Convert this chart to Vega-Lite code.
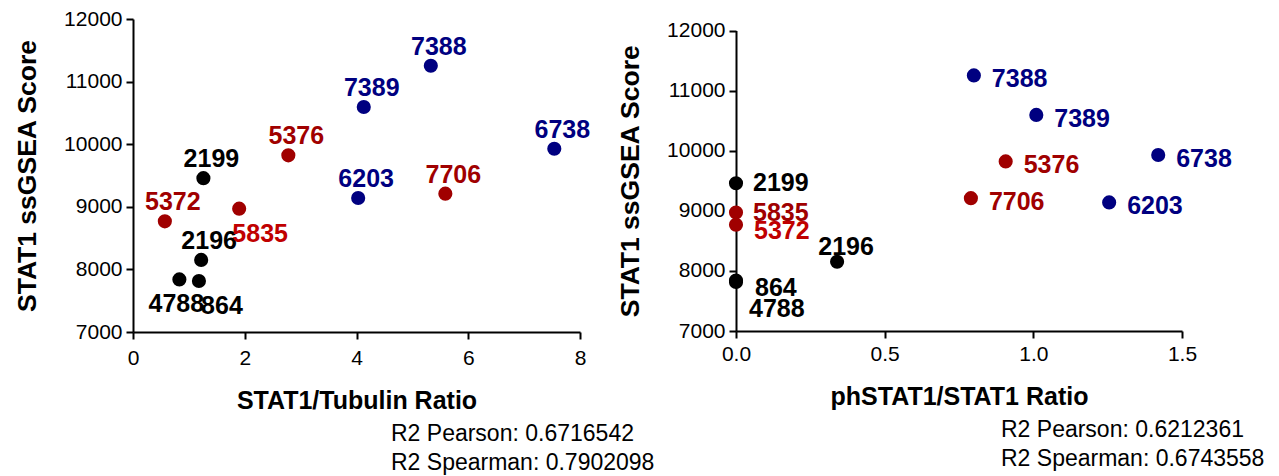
{
  "$schema": "https://vega.github.io/schema/vega-lite/v6.json",
  "background": "white",
  "padding": {"left": 14, "top": 8, "right": 5, "bottom": 5},
  "bounds": "flush",
  "config": {
    "view": {"stroke": null},
    "font": "Liberation Sans",
    "axis": {
      "grid": false,
      "domainColor": "black",
      "domainWidth": 2,
      "tickColor": "black",
      "tickWidth": 2,
      "tickSize": 7,
      "labelFont": "Liberation Sans",
      "labelFontSize": 21,
      "labelColor": "black",
      "labelPadding": 4,
      "labelFlush": false,
      "titleFont": "Liberation Sans",
      "titleFontSize": 25,
      "titleFontWeight": "bold",
      "titleColor": "black"
    },
    "title": {
      "font": "Liberation Sans",
      "fontSize": 23,
      "fontWeight": "normal",
      "color": "black",
      "subtitleFont": "Liberation Sans",
      "subtitleFontSize": 23,
      "subtitleColor": "black",
      "subtitlePadding": 6,
      "orient": "bottom",
      "anchor": "start",
      "frame": "group",
      "align": "left",
      "offset": 10
    }
  },
  "data": {
    "values": [
      {"id": "7388", "group": "blue", "tub": 5.33, "ph": 0.80, "score": 11253},
      {"id": "7389", "group": "blue", "tub": 4.13, "ph": 1.01, "score": 10595},
      {"id": "6738", "group": "blue", "tub": 7.54, "ph": 1.42, "score": 9928},
      {"id": "6203", "group": "blue", "tub": 4.03, "ph": 1.255, "score": 9140},
      {"id": "5376", "group": "red", "tub": 2.78, "ph": 0.907, "score": 9822},
      {"id": "7706", "group": "red", "tub": 5.59, "ph": 0.79, "score": 9210},
      {"id": "5835", "group": "red", "tub": 1.90, "ph": 0.0, "score": 8970},
      {"id": "5372", "group": "red", "tub": 0.57, "ph": 0.0, "score": 8768},
      {"id": "2199", "group": "black", "tub": 1.26, "ph": 0.0, "score": 9458},
      {"id": "2196", "group": "black", "tub": 1.22, "ph": 0.34, "score": 8152},
      {"id": "4788", "group": "black", "tub": 0.83, "ph": 0.0, "score": 7840},
      {"id": "864", "group": "black", "tub": 1.18, "ph": 0.0, "score": 7815}
    ]
  },
  "spacing": 156,
  "hconcat": [
    {
      "width": 447,
      "height": 313,
      "title": {"text": "R2 Pearson: 0.6716542", "subtitle": "R2 Spearman: 0.7902098", "dx": 258},
      "encoding": {
        "x": {"field": "tub", "type": "quantitative", "title": "STAT1/Tubulin Ratio",
              "scale": {"domain": [0, 8], "nice": false, "zero": false},
              "axis": {"values": [0, 2, 4, 6, 8], "format": "d", "labelPadding": 8, "titlePadding": 20}},
        "y": {"field": "score", "type": "quantitative", "title": "STAT1 ssGSEA Score",
              "scale": {"domain": [7000, 12000], "nice": false, "zero": false},
              "axis": {"values": [7000, 8000, 9000, 10000, 11000, 12000], "format": "d", "titleFontSize": 26.5, "titlePadding": 22}}
      },
      "layer": [
        {
          "mark": {"type": "point", "shape": "circle", "filled": true, "opacity": 1, "size": 200},
          "encoding": {
            "color": {"field": "group", "type": "nominal", "legend": null,
                      "scale": {"domain": ["black", "red", "blue"], "range": ["#000000", "#a00000", "#000080"]}}
          }
        },
        {
          "transform": [{"filter": {"not": {"field": "id", "oneOf": ["5835", "4788", "864"]}}}],
          "mark": {"type": "text", "fontSize": 25, "fontWeight": "bold", "align": "center", "baseline": "alphabetic", "dx": 8, "dy": -11},
          "encoding": {
            "text": {"field": "id"},
            "color": {"field": "group", "type": "nominal", "legend": null,
                      "scale": {"domain": ["black", "red", "blue"], "range": ["#000000", "#c00000", "#1f3464"]}}
          }
        },
        {
          "transform": [{"filter": {"field": "id", "oneOf": ["5835"]}}],
          "mark": {"type": "text", "fontSize": 25, "fontWeight": "bold", "align": "center", "baseline": "alphabetic", "dx": 21, "dy": 33, "color": "#c00000"},
          "encoding": {"text": {"field": "id"}}
        },
        {
          "transform": [{"filter": {"field": "id", "oneOf": ["4788"]}}],
          "mark": {"type": "text", "fontSize": 25, "fontWeight": "bold", "align": "center", "baseline": "alphabetic", "dx": -3, "dy": 33, "color": "#000000"},
          "encoding": {"text": {"field": "id"}}
        },
        {
          "transform": [{"filter": {"field": "id", "oneOf": ["864"]}}],
          "mark": {"type": "text", "fontSize": 25, "fontWeight": "bold", "align": "center", "baseline": "alphabetic", "dx": 23, "dy": 33, "color": "#000000"},
          "encoding": {"text": {"field": "id"}}
        }
      ]
    },
    {
      "width": 446,
      "height": 312,
      "title": {"text": "R2 Pearson: 0.6212361", "subtitle": "R2 Spearman: 0.6743558", "dx": 265},
      "encoding": {
        "x": {"field": "ph", "type": "quantitative", "title": "phSTAT1/STAT1 Ratio",
              "scale": {"domain": [0, 1.5], "nice": false, "zero": false},
              "axis": {"values": [0, 0.5, 1, 1.5], "format": ".1f", "labelPadding": 5, "titlePadding": 20}},
        "y": {"field": "score", "type": "quantitative", "title": "STAT1 ssGSEA Score",
              "scale": {"domain": [7000, 12000], "nice": false, "zero": false, "range": [312, 11.5]},
              "axis": {"values": [7000, 8000, 9000, 10000, 11000, 12000], "format": "d", "titleFontSize": 26.5, "titlePadding": 22}}
      },
      "layer": [
        {
          "mark": {"type": "point", "shape": "circle", "filled": true, "opacity": 1, "size": 200},
          "encoding": {
            "color": {"field": "group", "type": "nominal", "legend": null,
                      "scale": {"domain": ["black", "red", "blue"], "range": ["#000000", "#a00000", "#000080"]}}
          }
        },
        {
          "transform": [{"filter": {"field": "id", "oneOf": ["7388", "7389", "6738", "5376", "7706", "6203"]}}],
          "mark": {"type": "text", "fontSize": 25, "fontWeight": "bold", "align": "left", "baseline": "alphabetic", "dx": 18, "dy": 12},
          "encoding": {
            "text": {"field": "id"},
            "color": {"field": "group", "type": "nominal", "legend": null,
                      "scale": {"domain": ["black", "red", "blue"], "range": ["#000000", "#c00000", "#1f3464"]}}
          }
        },
        {
          "transform": [{"filter": {"field": "id", "oneOf": ["2199", "5835"]}}],
          "mark": {"type": "text", "fontSize": 25, "fontWeight": "bold", "align": "left", "baseline": "alphabetic", "dx": 17, "dy": 8},
          "encoding": {
            "text": {"field": "id"},
            "color": {"field": "group", "type": "nominal", "legend": null,
                      "scale": {"domain": ["black", "red", "blue"], "range": ["#000000", "#c00000", "#1f3464"]}}
          }
        },
        {
          "transform": [{"filter": {"field": "id", "oneOf": ["5372"]}}],
          "mark": {"type": "text", "fontSize": 25, "fontWeight": "bold", "align": "left", "baseline": "alphabetic", "dx": 18, "dy": 14, "color": "#c00000"},
          "encoding": {"text": {"field": "id"}}
        },
        {
          "transform": [{"filter": {"field": "id", "oneOf": ["2196"]}}],
          "mark": {"type": "text", "fontSize": 25, "fontWeight": "bold", "align": "center", "baseline": "alphabetic", "dx": 9, "dy": -7, "color": "#000000"},
          "encoding": {"text": {"field": "id"}}
        },
        {
          "transform": [{"filter": {"field": "id", "oneOf": ["864"]}}],
          "mark": {"type": "text", "fontSize": 25, "fontWeight": "bold", "align": "left", "baseline": "alphabetic", "dx": 19, "dy": 14, "color": "#000000"},
          "encoding": {"text": {"field": "id"}}
        },
        {
          "transform": [{"filter": {"field": "id", "oneOf": ["4788"]}}],
          "mark": {"type": "text", "fontSize": 25, "fontWeight": "bold", "align": "left", "baseline": "alphabetic", "dx": 13, "dy": 36, "color": "#000000"},
          "encoding": {"text": {"field": "id"}}
        }
      ]
    }
  ]
}
